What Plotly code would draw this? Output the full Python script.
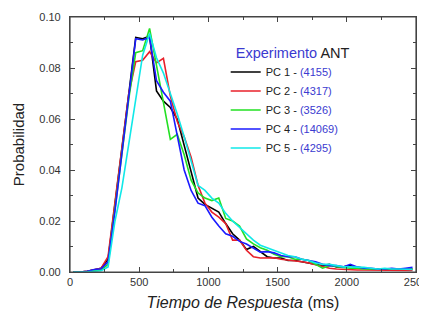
import plotly.graph_objects as go

# Bin centres (ms)
tiempo = [25 + 50 * k for k in range(50)]

pc1 = [0.0000, 0.0000, 0.0003, 0.0010, 0.0015, 0.0050, 0.0260, 0.0480, 0.0700, 0.0920,
       0.0915, 0.0925, 0.0710, 0.0670, 0.0645, 0.0600, 0.0500, 0.0400, 0.0290, 0.0265,
       0.0250, 0.0235, 0.0190, 0.0150, 0.0125, 0.0088, 0.0100, 0.0080, 0.0060, 0.0055,
       0.0055, 0.0045, 0.0045, 0.0040, 0.0035, 0.0030, 0.0025, 0.0030, 0.0020, 0.0020,
       0.0025, 0.0018, 0.0015, 0.0012, 0.0012, 0.0010, 0.0010, 0.0012, 0.0010, 0.0012]
pc2 = [0.0000, 0.0000, 0.0003, 0.0010, 0.0015, 0.0060, 0.0280, 0.0500, 0.0700, 0.0825,
       0.0830, 0.0864, 0.0820, 0.0838, 0.0690, 0.0590, 0.0530, 0.0450, 0.0340, 0.0270,
       0.0235, 0.0215, 0.0190, 0.0125, 0.0125, 0.0085, 0.0060, 0.0055, 0.0055, 0.0056,
       0.0050, 0.0047, 0.0045, 0.0040, 0.0035, 0.0028, 0.0020, 0.0015, 0.0012, 0.0010,
       0.0010, 0.0008, 0.0008, 0.0008, 0.0008, 0.0006, 0.0006, 0.0006, 0.0006, 0.0006]
pc3 = [0.0000, 0.0000, 0.0002, 0.0005, 0.0008, 0.0030, 0.0240, 0.0460, 0.0680, 0.0860,
       0.0868, 0.0955, 0.0810, 0.0660, 0.0520, 0.0540, 0.0460, 0.0360, 0.0310, 0.0290,
       0.0280, 0.0290, 0.0210, 0.0200, 0.0180, 0.0130, 0.0110, 0.0095, 0.0085, 0.0070,
       0.0060, 0.0060, 0.0050, 0.0050, 0.0045, 0.0030, 0.0015, 0.0025, 0.0020, 0.0018,
       0.0015, 0.0015, 0.0012, 0.0012, 0.0010, 0.0010, 0.0010, 0.0010, 0.0012, 0.0012]
pc4 = [0.0000, 0.0000, 0.0003, 0.0010, 0.0013, 0.0040, 0.0240, 0.0460, 0.0680, 0.0915,
       0.0910, 0.0920, 0.0750, 0.0705, 0.0670, 0.0540, 0.0400, 0.0320, 0.0270, 0.0260,
       0.0215, 0.0180, 0.0150, 0.0140, 0.0120, 0.0110, 0.0095, 0.0078, 0.0080, 0.0075,
       0.0065, 0.0060, 0.0060, 0.0050, 0.0045, 0.0040, 0.0030, 0.0025, 0.0025, 0.0020,
       0.0030, 0.0020, 0.0015, 0.0015, 0.0012, 0.0012, 0.0015, 0.0012, 0.0015, 0.0018]
pc5 = [0.0000, 0.0000, 0.0001, 0.0003, 0.0005, 0.0020, 0.0200, 0.0330, 0.0500, 0.0670,
       0.0850, 0.0935, 0.0840, 0.0780, 0.0700, 0.0620, 0.0530, 0.0430, 0.0340, 0.0320,
       0.0290, 0.0270, 0.0230, 0.0200, 0.0175, 0.0150, 0.0125, 0.0105, 0.0095, 0.0085,
       0.0073, 0.0065, 0.0060, 0.0050, 0.0045, 0.0035, 0.0030, 0.0030, 0.0025, 0.0020,
       0.0020, 0.0020, 0.0018, 0.0015, 0.0012, 0.0015, 0.0012, 0.0012, 0.0010, 0.0010]

series_names = ["PC 1", "PC 2", "PC 3", "PC 4", "PC 5"]
series_counts = ["4155", "4317", "3526", "14069", "4295"]
series_values = [pc1, pc2, pc3, pc4, pc5]
series_colors = ["#000000", "#e8202a", "#22e022", "#1a1aff", "#10e8e8"]

x_ticks = [0, 500, 1000, 1500, 2000, 2500]
y_ticks = [0.00, 0.02, 0.04, 0.06, 0.08, 0.10]

NUM_BLUE = "#3a3ad0"
FONT = "Arial, Liberation Sans, sans-serif"
AXIS_COL = "#444444"

fig = go.Figure()
for name, cnt, vals, col in zip(series_names, series_counts, series_values, series_colors):
    fig.add_trace(go.Scatter(
        x=tiempo, y=vals, mode="lines",
        name=f"{name} - <span style='color:{NUM_BLUE}'>({cnt})</span>",
        line=dict(color=col, width=1.6),
    ))

axis_common = dict(
    showline=True, linecolor=AXIS_COL, linewidth=1.2, mirror="ticks",
    ticks="inside", ticklen=5, tickcolor=AXIS_COL, tickwidth=1,
    showgrid=False, zeroline=False, automargin=False,
    ticklabeloverflow="allow",
    tickfont=dict(family=FONT, size=11, color="#333333"),
)

fig.update_xaxes(
    range=[0, 2500], tickvals=x_ticks, ticktext=[str(v) for v in x_ticks],
    minor=dict(dtick=250, ticks="inside", ticklen=3, tickcolor=AXIS_COL),
    title=dict(text="<i>Tiempo de Respuesta</i> (ms)", font=dict(family=FONT, size=16, color="#222222"), standoff=9),
    **axis_common,
)
fig.update_yaxes(
    range=[0, 0.10], tickvals=y_ticks, ticktext=[f"{v:.2f}" for v in y_ticks],
    minor=dict(dtick=0.01, ticks="inside", ticklen=3, tickcolor=AXIS_COL),
    title=dict(text="Probabilidad", font=dict(family=FONT, size=15, color="#222222"), standoff=11),
    ticklabelstandoff=6,
    **axis_common,
)

# Frame around the plotting area (axes box)
fig.add_shape(type="rect", xref="paper", yref="paper", x0=0, y0=0, x1=1, y1=1,
              line=dict(color=AXIS_COL, width=1.2), fillcolor="rgba(0,0,0,0)", layer="above")

# The page body has an 8px default margin, so the figure is sized/offset for it.
fig.update_layout(
    width=419, height=308,
    margin=dict(l=62, r=11, t=9, b=44, autoexpand=False),
    paper_bgcolor="white", plot_bgcolor="white",
    font=dict(family=FONT, size=11, color="#222222"),
    showlegend=True,
    legend=dict(
        x=0.45, y=0.915, xanchor="left", yanchor="top",
        bgcolor="rgba(0,0,0,0)", borderwidth=0,
        title=dict(text=f"&nbsp;&nbsp;<span style='color:{NUM_BLUE}'>Experimento</span> ANT",
                   font=dict(family=FONT, size=14.5, color="#222222"), side="top"),
        font=dict(family=FONT, size=11, color="#222222"),
        itemwidth=30, tracegroupgap=0,
    ),
)

fig.write_html("out.html")
